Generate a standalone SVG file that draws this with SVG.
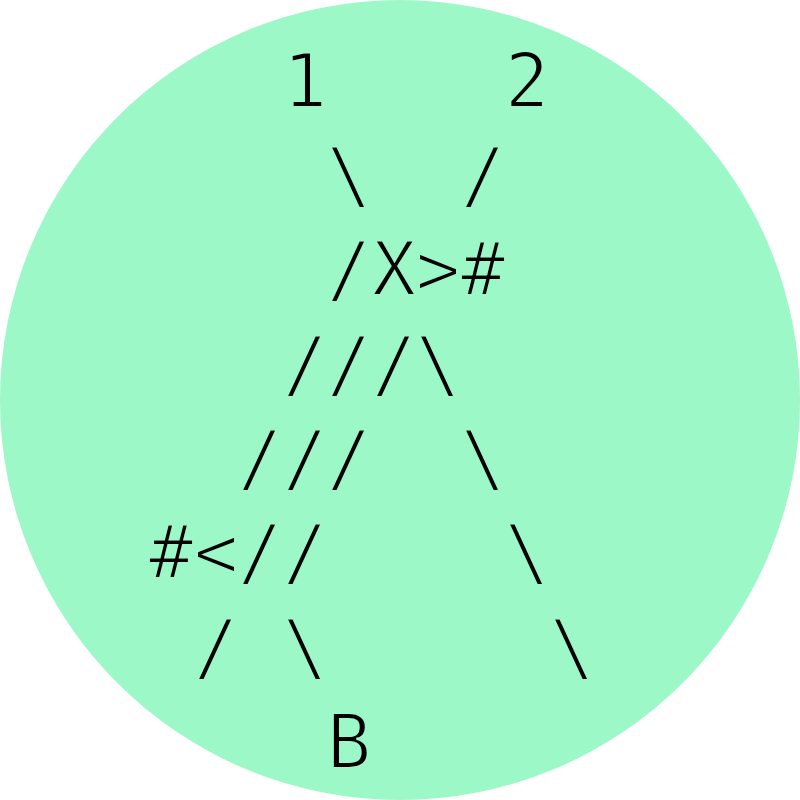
<svg xmlns="http://www.w3.org/2000/svg" width="800" height="800" viewBox="0 0 800 800">
<style>
  text { font-family: "DejaVu Sans Mono", "Liberation Mono", monospace; font-size: 74px; fill: #000; text-anchor: middle; stroke: #9cf8c6; stroke-width: 2.2px; }
</style>
<rect width="800" height="800" fill="#ffffff"/>
<circle cx="400" cy="400" r="400" fill="#9cf8c6"/>
<g id="connectors">
  <text x="349" y="201">\</text>
  <text x="483" y="201">/</text>
  <text x="349" y="295">/</text>
  <text x="394" y="295">X</text>
  <text x="438" y="295">&gt;</text>
  <text x="483" y="295">#</text>
  <text x="305" y="390">/</text>
  <text x="349" y="390">/</text>
  <text x="394" y="390">/</text>
  <text x="438" y="390">\</text>
  <text x="260" y="484">/</text>
  <text x="305" y="484">/</text>
  <text x="349" y="484">/</text>
  <text x="483" y="484">\</text>
  <text x="171" y="578">#</text>
  <text x="216" y="578">&lt;</text>
  <text x="260" y="578">/</text>
  <text x="305" y="578">/</text>
  <text x="527" y="578">\</text>
  <text x="216" y="673">/</text>
  <text x="305" y="673">\</text>
  <text x="572" y="673">\</text>
</g>
<g id="node-1"><text x="305" y="107">1</text></g>
<g id="node-2"><text x="527" y="107">2</text></g>
<g id="node-B"><text x="349" y="768">B</text></g>
</svg>
